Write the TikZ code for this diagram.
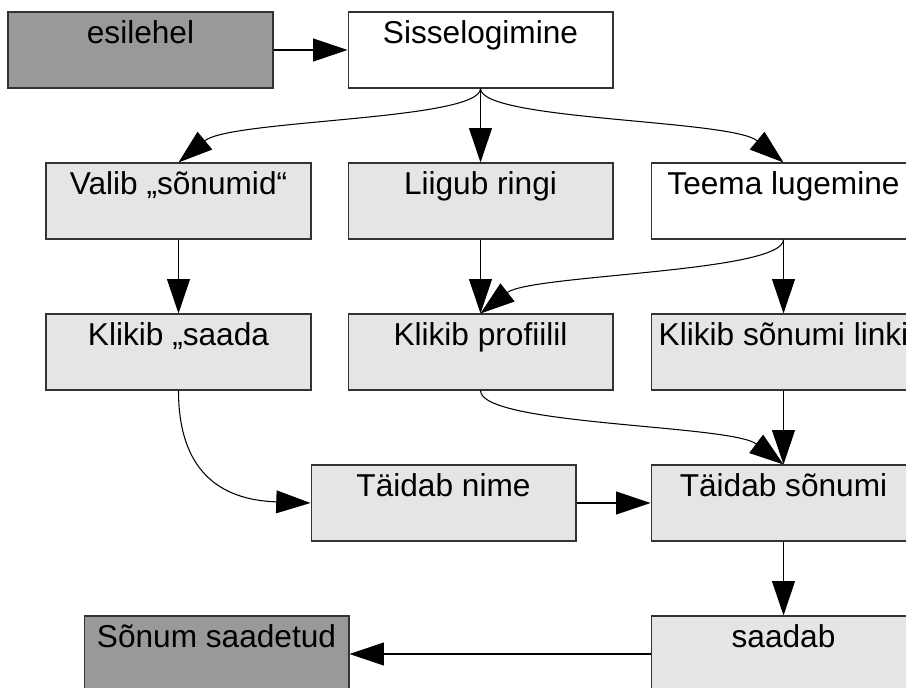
\documentclass[tikz,border=0pt]{standalone}
\usepackage{fontspec}
\setmainfont{Liberation Sans}
\usepackage{xcolor}
\usetikzlibrary{arrows.meta}

\begin{document}
\begin{tikzpicture}[x=0.02cm, y=-0.02cm, line width=0.6pt,
  >={Triangle[length=19.5pt,width=13pt]}]
\tikzstyle{every node}=[rectangle, draw=black!80, fill=black!10,
                        minimum width=5.3cm, inner ysep=0pt,
                        text height=0.64cm, text depth=0.88cm,
                        font=\fontsize{18}{21}\selectfont]
\tikzstyle{dark}=[fill=black!40]
\tikzstyle{blank}=[fill=white]
\useasboundingbox (0,0) rectangle (906,688);
\clip (0,0) rectangle (906,688);
\node[dark] (E) at (140.5,50) {esilehel};
\node[blank] (S) at (480.5,50) {Sisselogimine};
\node (V) at (178.5,201) {Valib „sõnumid“};
\node (L) at (480.5,201) {Liigub ringi};
\node[blank] (T) at (783.5,201) {Teema lugemine};
\node (KS) at (178.5,352) {Klikib „saada};
\node (KP) at (480.5,352) {Klikib profiilil};
\node (KL) at (783.5,352) {Klikib sõnumi linki};
\node (TN) at (443.5,503) {Täidab nime};
\node (TS) at (783.5,503) {Täidab sõnumi};
\node[dark] (SS) at (216.5,654) {Sõnum saadetud};
\node (SA) at (783.5,654) {saadab};
\draw[->] (E.east) -- (S.west);
\draw[->] (S.south) .. controls +(0,32) and +(52,-43) .. (V.north);
\draw[->] (S.south) .. controls +(0,32) and +(-52,-43) .. (T.north);
\draw[->] (T.south) .. controls +(0,33) and +(50,-39) .. (KP.north);
\draw[->] (KP.south) .. controls +(0,35) and +(-53,-40) .. (TS.north);
\draw[->] (KS.south) .. controls +(0,80) and +(-91,-3) .. (TN.west);
\draw[->] (TN.east) -- (TS.west);
\draw[->] (SA.west) -- (SS.east);
\foreach \i/\j in {S/L,V/KS,L/KP,T/KL,KL/TS,TS/SA}{\draw[->] (\i.south) -- (\j.north);}
\end{tikzpicture}
\end{document}
